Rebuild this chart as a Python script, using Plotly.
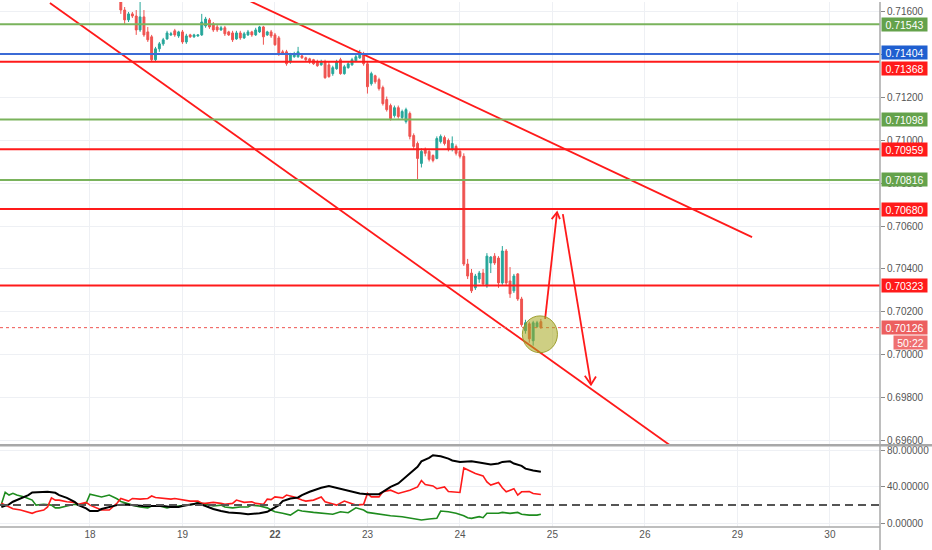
import plotly.graph_objects as go

# ---------------- data ----------------
# hourly candles, first bar at hour 8 of day "18" (x axis unit = hours of trading time)
first_hour = 8
opens = [0.71647, 0.71609, 0.71563, 0.71591, 0.71581, 0.71516, 0.71577, 0.71507, 0.71484, 0.71377,
         0.71428, 0.71451, 0.71474, 0.71493, 0.71512, 0.71488, 0.71507, 0.71460, 0.71493, 0.71484,
         0.71488, 0.71493, 0.71535, 0.71563, 0.71544, 0.71530, 0.71516, 0.71526, 0.71507, 0.71502,
         0.71474, 0.71502, 0.71479, 0.71493, 0.71507, 0.71493, 0.71507, 0.71530, 0.71493, 0.71507,
         0.71493, 0.71479, 0.71414, 0.71414, 0.71367, 0.71391, 0.71391, 0.71395, 0.71386, 0.71381,
         0.71377, 0.71367, 0.71353, 0.71367, 0.71353, 0.71312, 0.71335, 0.71377, 0.71312, 0.71340,
         0.71353, 0.71372, 0.71386, 0.71405, 0.71358, 0.71265, 0.71302, 0.71284, 0.71247, 0.71191,
         0.71163, 0.71116, 0.71153, 0.71107, 0.71088, 0.71126, 0.71023, 0.70986, 0.70893, 0.70958,
         0.70949, 0.70930, 0.70916, 0.70995, 0.71014, 0.71000, 0.70958, 0.70972, 0.70949, 0.70926,
         0.70423, 0.70381, 0.70312, 0.70353, 0.70381, 0.70321, 0.70428, 0.70460, 0.70451, 0.70335,
         0.70484, 0.70344, 0.70298, 0.70377, 0.70260, 0.70112, 0.70144, 0.70065, 0.70130, 0.70154]
highs = [0.71670, 0.71623, 0.71600, 0.71600, 0.71609, 0.71647, 0.71609, 0.71530, 0.71493, 0.71437,
         0.71460, 0.71479, 0.71512, 0.71507, 0.71521, 0.71512, 0.71516, 0.71498, 0.71498, 0.71498,
         0.71493, 0.71591, 0.71577, 0.71572, 0.71553, 0.71540, 0.71535, 0.71535, 0.71512, 0.71512,
         0.71512, 0.71512, 0.71507, 0.71516, 0.71512, 0.71526, 0.71535, 0.71535, 0.71512, 0.71516,
         0.71502, 0.71488, 0.71423, 0.71423, 0.71409, 0.71414, 0.71437, 0.71400, 0.71391, 0.71386,
         0.71381, 0.71377, 0.71377, 0.71377, 0.71367, 0.71349, 0.71377, 0.71386, 0.71353, 0.71367,
         0.71386, 0.71405, 0.71423, 0.71414, 0.71367, 0.71321, 0.71307, 0.71293, 0.71256, 0.71205,
         0.71172, 0.71163, 0.71163, 0.71144, 0.71153, 0.71135, 0.71033, 0.70995, 0.70963, 0.70967,
         0.70958, 0.70935, 0.71019, 0.71028, 0.71023, 0.71009, 0.71019, 0.70981, 0.70958, 0.70940,
         0.70447, 0.70400, 0.70377, 0.70391, 0.70400, 0.70474, 0.70460, 0.70474, 0.70460, 0.70507,
         0.70493, 0.70409, 0.70377, 0.70381, 0.70270, 0.70163, 0.70154, 0.70158, 0.70158, 0.70167]
lows = [0.71591, 0.71544, 0.71553, 0.71572, 0.71493, 0.71507, 0.71484, 0.71460, 0.71367, 0.71367,
        0.71414, 0.71442, 0.71470, 0.71488, 0.71484, 0.71479, 0.71451, 0.71451, 0.71479, 0.71479,
        0.71484, 0.71488, 0.71526, 0.71521, 0.71507, 0.71507, 0.71512, 0.71488, 0.71488, 0.71460,
        0.71470, 0.71470, 0.71474, 0.71488, 0.71484, 0.71488, 0.71502, 0.71447, 0.71488, 0.71479,
        0.71442, 0.71395, 0.71400, 0.71349, 0.71358, 0.71386, 0.71386, 0.71381, 0.71367, 0.71358,
        0.71353, 0.71344, 0.71349, 0.71288, 0.71293, 0.71302, 0.71330, 0.71307, 0.71307, 0.71335,
        0.71349, 0.71367, 0.71381, 0.71349, 0.71219, 0.71256, 0.71265, 0.71233, 0.71163, 0.71135,
        0.71093, 0.71107, 0.71102, 0.71098, 0.71079, 0.71005, 0.70958, 0.70819, 0.70874, 0.70926,
        0.70902, 0.70898, 0.70912, 0.70986, 0.70977, 0.70949, 0.70949, 0.70930, 0.70916, 0.70414,
        0.70353, 0.70288, 0.70302, 0.70335, 0.70321, 0.70312, 0.70381, 0.70419, 0.70312, 0.70326,
        0.70321, 0.70265, 0.70288, 0.70251, 0.70130, 0.70098, 0.70056, 0.70042, 0.70126, 0.70121]
closes = [0.71609, 0.71563, 0.71591, 0.71581, 0.71516, 0.71577, 0.71493, 0.71470, 0.71377, 0.71428,
          0.71451, 0.71470, 0.71502, 0.71498, 0.71493, 0.71507, 0.71460, 0.71488, 0.71484, 0.71493,
          0.71493, 0.71553, 0.71567, 0.71530, 0.71516, 0.71516, 0.71526, 0.71498, 0.71493, 0.71470,
          0.71502, 0.71479, 0.71498, 0.71507, 0.71493, 0.71516, 0.71530, 0.71484, 0.71507, 0.71488,
          0.71447, 0.71405, 0.71405, 0.71358, 0.71400, 0.71405, 0.71414, 0.71386, 0.71377, 0.71367,
          0.71358, 0.71349, 0.71367, 0.71293, 0.71298, 0.71340, 0.71367, 0.71312, 0.71344, 0.71358,
          0.71377, 0.71391, 0.71405, 0.71358, 0.71251, 0.71312, 0.71274, 0.71242, 0.71172, 0.71144,
          0.71102, 0.71153, 0.71112, 0.71135, 0.71144, 0.71019, 0.70972, 0.70916, 0.70949, 0.70940,
          0.70912, 0.70907, 0.71009, 0.71019, 0.70986, 0.70958, 0.70986, 0.70940, 0.70926, 0.70423,
          0.70367, 0.70298, 0.70367, 0.70381, 0.70330, 0.70460, 0.70456, 0.70428, 0.70335, 0.70484,
          0.70335, 0.70284, 0.70367, 0.70260, 0.70140, 0.70149, 0.70074, 0.70149, 0.70149, 0.70126]

day_ticks = [0, 24, 48, 72, 96, 120, 144, 168, 192]
day_labels = ["18", "19", "<b>22</b>", "23", "24", "25", "26", "29", "30"]
price_ticks = [0.696, 0.698, 0.700, 0.702, 0.704, 0.706, 0.708, 0.710, 0.712, 0.714, 0.716]
dmi_ticks = [0, 40, 80]
dmi_tick_labels = ["0.00000", "40.00000", "80.00000"]

levels = [0.71543, 0.71404, 0.71368, 0.71098, 0.70959, 0.70816, 0.70680, 0.70323]
level_kinds = ["g", "b", "r", "g", "r", "g", "r", "r"]
label_nudge = [0, 1, -7, 0, 0, 0, 0, 0]
last_price = 0.70126
countdown = "50:22"
adx_threshold = 20

# DMI / ADX indicator (hour, value)
adx_hours = [-23, -21, -20, -18, -16, -15, -13, -11, -9, -8, -6, -4, -3, -1, 0, 2, 3, 5, 7, 9,
             11, 14, 16, 19, 21, 23, 24, 27, 28, 30, 32, 34, 36, 39, 41, 44, 46, 47, 49, 50,
             52, 54, 55, 57, 60, 62, 63, 65, 67, 68, 70, 72, 75, 76, 78, 80, 81, 83, 85, 86,
             88, 89, 91, 93, 94, 96, 98, 99, 101, 103, 104, 106, 107, 109, 110, 112, 113, 115, 117]
adx_vals = [18, 20.8, 23.7, 27.3, 31, 33.9, 34.6, 34.6, 33.5, 31, 28, 23.7, 20, 16.4, 13.5, 13.5, 15.7, 18, 20, 20.8,
            20, 19, 19, 19, 18, 18, 19, 20.8, 21.9, 19, 15.7, 13.5, 12, 11, 10, 11, 12.7, 15, 20, 24.4,
            27.3, 28.4, 31, 34.6, 39, 41, 40, 37.5, 35.7, 34.6, 32.8, 32, 32, 34.6, 40, 43.7, 47.4, 54.6, 62, 68,
            71.8, 74.7, 73.6, 71, 69, 67.4, 68, 68, 66.7, 65.6, 64.5, 65.6, 67.4, 68, 65.6, 63, 60, 58, 56.5]
plus_hours = [-23, -21, -20, -18, -16, -15, -14, -12, -11, -10, -9, -8, -6, -4, -3, -1, 0, 2, 3, 5,
              7, 8, 10, 11, 13, 15, 16, 17, 19, 21, 22, 24, 26, 28, 29, 30, 32, 34, 35, 37,
              38, 40, 42, 43, 45, 46, 47, 48, 50, 51, 53, 55, 56, 58, 60, 61, 63, 64, 66, 68,
              69, 71, 72, 73, 75, 76, 78, 80, 81, 83, 85, 86, 87, 89, 90, 92, 93, 95, 96, 97,
              99, 100, 102, 103, 104, 106, 107, 108, 110, 111, 112, 114, 115, 117]
plus_vals = [22, 18, 16, 14.6, 12.7, 11, 12.7, 14.6, 18, 28, 25.5, 25.5, 23.7, 23, 20.8, 23, 20, 16.4, 14.6, 14.6,
             22, 27.3, 24.4, 27.3, 26.6, 27.3, 30, 28.4, 27.3, 26.6, 27.3, 25.5, 24.4, 24.4, 22, 21.9, 23, 21.9, 20.8, 21.9,
             25.5, 23, 23.7, 21.9, 20.8, 26.6, 26, 29, 28, 31, 29, 25.5, 24.4, 25.5, 29, 23.7, 20.8, 20, 24.4, 21.9,
             20, 20.8, 32.8, 29, 29, 34.6, 36.4, 32.8, 33.9, 36.4, 40, 47, 42.6, 41, 38, 40, 35, 34.6, 33.9, 60.8,
             57, 54.6, 52, 45.5, 42, 44.8, 39, 34.6, 38, 31, 34.6, 35, 32.8, 31.7]
minus_hours = [-23, -22, -21, -20, -19, -17, -15, -14, -12, -10, -9, -8, -6, -4, -3, -1, 0, 2, 3, 5,
               7, 8, 10, 11, 13, 15, 16, 18, 20, 21, 23, 25, 27, 28, 30, 32, 34, 35, 37, 39,
               41, 42, 44, 46, 47, 48, 50, 52, 54, 55, 58, 60, 63, 65, 67, 69, 71, 72, 75, 78,
               81, 84, 86, 88, 90, 91, 93, 95, 97, 98, 99, 101, 102, 103, 106, 107, 109, 111, 112, 114,
               116, 117]
minus_vals = [21, 34, 31, 33, 31, 29, 25.5, 20, 21, 20, 17, 17, 19, 21, 20, 22, 32, 30, 29, 31,
              27, 24, 21, 20, 18, 17, 19, 19, 17, 18, 19, 20, 21, 23, 21, 19, 20, 18, 17, 18,
              18, 20, 19, 17, 14.6, 12.7, 11, 9, 14.6, 13.5, 12, 11, 10, 12.7, 11.7, 17, 14.6, 12, 10, 8.4,
              7.3, 5.5, 3.6, 4.7, 5.5, 13.5, 12.7, 11, 8.4, 6.2, 5.5, 7.3, 6.2, 11, 11, 12, 11, 12, 10, 9,
              9, 10]

# chart drawings (hour, price)
lower_trend_h = [-10.4, 150.5]
lower_trend_p = [0.71642, 0.69577]
upper_trend_h = [41.5, 171.8]
upper_trend_p = [0.71651, 0.70549]
up_arrow_h = [118.1, 121.2, None, 119.8, 121.2, 121.95]
up_arrow_p = [0.70167, 0.70665, None, 0.70633, 0.70665, 0.70633]
down_arrow_h = [122.7, 130.0, None, 128.4, 130.0, 131.3]
down_arrow_p = [0.70656, 0.69860, None, 0.69902, 0.69860, 0.69898]
circle_h = [112.2, 121.3]
circle_p = [0.70009, 0.70181]

# ---------------- style ----------------
FONT = "Liberation Sans"
GRID = "#eef0f4"
RED = "#ff1a1a"
kind_line = {"g": "#7ab35c", "b": "#3b6bd6", "r": "#ff1a1a"}
kind_box = {"g": "#64a24b", "b": "#1f5fd0", "r": "#ff1a1a"}

x_range = [-23.35, 205.0]
y_range = [0.695814, 0.716465]
y2_range = [-4.0, 83.4]
main_dom = [0.1575, 1.0]
ind_dom = [0.0, 0.1518]

fig = go.Figure()

fig.add_trace(go.Candlestick(
    x=[first_hour + i for i in range(len(closes))],
    open=opens, high=highs, low=lows, close=closes,
    increasing=dict(line=dict(color="#26a69a", width=1), fillcolor="#26a69a"),
    decreasing=dict(line=dict(color="#ef5350", width=1), fillcolor="#ef5350"),
    whiskerwidth=0, showlegend=False, xaxis="x", yaxis="y", hoverinfo="skip"))

for hs, ps in [(lower_trend_h, lower_trend_p), (upper_trend_h, upper_trend_p),
               (up_arrow_h, up_arrow_p), (down_arrow_h, down_arrow_p)]:
    fig.add_trace(go.Scatter(x=hs, y=ps, mode="lines", line=dict(color=RED, width=1.8),
                             showlegend=False, xaxis="x", yaxis="y", hoverinfo="skip"))

fig.add_trace(go.Scatter(x=minus_hours, y=minus_vals, mode="lines",
                         line=dict(color="#1e8c1e", width=1.6), showlegend=False,
                         xaxis="x2", yaxis="y2"))
fig.add_trace(go.Scatter(x=plus_hours, y=plus_vals, mode="lines",
                         line=dict(color="#ff1a1a", width=1.6), showlegend=False,
                         xaxis="x2", yaxis="y2"))
fig.add_trace(go.Scatter(x=adx_hours, y=adx_vals, mode="lines",
                         line=dict(color="#000000", width=2), showlegend=False,
                         xaxis="x2", yaxis="y2"))

shapes = []
annotations = []
for lv, k, nudge in zip(levels, level_kinds, label_nudge):
    shapes.append(dict(type="line", xref="paper", x0=0, x1=1, yref="y", y0=lv, y1=lv,
                       line=dict(color=kind_line[k], width=2)))
    annotations.append(dict(xref="paper", x=1, xanchor="left", xshift=1, yref="y", y=lv, yshift=nudge,
                            text=f"{lv:.5f}", showarrow=False, bgcolor=kind_box[k],
                            font=dict(family=FONT, size=10.5, color="white"),
                            width=45, height=13, align="center", borderpad=0))
# last price
shapes.append(dict(type="line", xref="paper", x0=0, x1=1, yref="y", y0=last_price, y1=last_price,
                   line=dict(color="#ef5350", width=1, dash="dot")))
annotations.append(dict(xref="paper", x=1, xanchor="left", xshift=1, yref="y", y=last_price,
                        text=f"{last_price:.5f}", showarrow=False, bgcolor="#ec5f5f",
                        font=dict(family=FONT, size=10.5, color="white"),
                        width=45, height=13, align="center", borderpad=0))
annotations.append(dict(xref="paper", x=1, xanchor="left", xshift=13, yref="y", y=last_price,
                        yshift=-15, text=countdown, showarrow=False, bgcolor="#ef7070",
                        font=dict(family=FONT, size=10.5, color="white"),
                        width=33, height=13, align="center", borderpad=0))
# circle
shapes.append(dict(type="circle", xref="x", yref="y", x0=circle_h[0], x1=circle_h[1],
                   y0=circle_p[0], y1=circle_p[1], fillcolor="rgba(165,168,30,0.55)",
                   line=dict(color="rgba(150,150,30,0.9)", width=1), layer="above"))
# ADX threshold dashed line
shapes.append(dict(type="line", xref="paper", x0=0, x1=1, yref="y2", y0=adx_threshold, y1=adx_threshold,
                   line=dict(color="#555555", width=2, dash="8px,5px")))
# panel separator and price-scale border
shapes.append(dict(type="line", xref="paper", x0=0, x1=1.06, yref="paper", y0=1 - 445 / 527, y1=1 - 445 / 527,
                   line=dict(color="#a8a8a8", width=2.5)))
shapes.append(dict(type="line", xref="paper", x0=0, x1=1.0, yref="paper", y0=0, y1=0,
                   line=dict(color="#a8a8a8", width=1.5)))
shapes.append(dict(type="line", xref="paper", x0=1, x1=1, yref="paper", y0=-0.05, y1=1,
                   line=dict(color="#a8a8a8", width=1.5)))

tickfont = dict(family=FONT, size=10, color="#555555")
fig.update_layout(
    width=932, height=550, margin=dict(l=0, r=52, t=0, b=23),
    paper_bgcolor="white", plot_bgcolor="white", showlegend=False,
    xaxis=dict(domain=[0, 1], anchor="y", range=x_range, tickvals=day_ticks, showticklabels=False,
               showgrid=True, gridcolor=GRID, zeroline=False, rangeslider=dict(visible=False),
               fixedrange=True),
    yaxis=dict(domain=main_dom, anchor="x", range=y_range, side="right", tickvals=price_ticks,
               ticktext=[f"{p:.5f}" for p in price_ticks], ticks="outside", ticklen=4,
               tickcolor="#888888", tickfont=tickfont, showgrid=True, gridcolor=GRID, zeroline=False),
    xaxis2=dict(domain=[0, 1], anchor="y2", range=x_range, tickvals=day_ticks, ticktext=day_labels,
                tickfont=tickfont, showgrid=True, gridcolor=GRID, zeroline=False, ticks="",
                matches="x"),
    yaxis2=dict(domain=ind_dom, anchor="x2", range=y2_range, side="right", tickvals=dmi_ticks,
                ticktext=dmi_tick_labels, ticks="outside", ticklen=4, tickcolor="#888888",
                tickfont=tickfont, showgrid=True, gridcolor=GRID, zeroline=False),
    shapes=shapes, annotations=annotations,
)

fig.write_html("out.html", config={"displayModeBar": False},
               post_script="document.body.style.margin='0px';document.body.style.overflow='hidden';")
